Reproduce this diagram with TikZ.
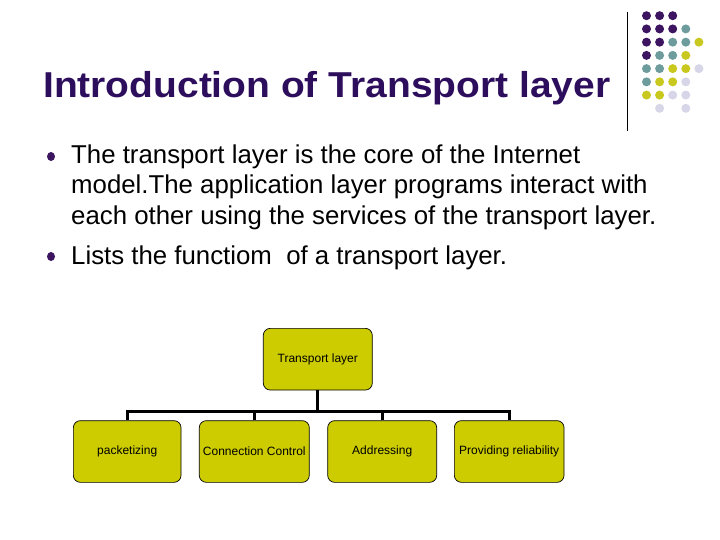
\documentclass[tikz,border=0pt]{standalone}
\usepackage{fontspec}
\setmainfont{Liberation Sans}
\newfontfamily\titlefont[FakeStretch=1.082]{Liberation Sans}
\definecolor{titlepurple}{RGB}{45,14,92}
\definecolor{dotP}{RGB}{60,20,95}
\definecolor{dotT}{RGB}{110,156,156}
\definecolor{dotY}{RGB}{200,200,30}
\definecolor{dotL}{RGB}{214,214,232}
\definecolor{boxfill}{RGB}{204,204,0}
\tikzset{
  txt/.style={inner sep=0pt, anchor=base west, font=\fontsize{25.8}{30}\selectfont},
  bul/.style={fill=dotP, draw=none},
  box/.style={draw=black, line width=0.7pt, fill=boxfill, rounded corners=7pt,
    inner sep=0pt, minimum height=61.7pt, font=\fontsize{12}{14}\selectfont},
  conn/.style={draw=black, line width=3pt},
}
\begin{document}
\begin{tikzpicture}[x=1pt,y=-1pt]
\useasboundingbox (0,0) rectangle (720,540);
% title
\node[inner sep=0pt, anchor=base west, text=titlepurple, font=\titlefont\bfseries\fontsize{36}{40}\selectfont] (title) at (43,97.5) {Introduction of Transport layer};
% vertical rule
\coordinate (ruletop) at (627,12);
\coordinate (rulebot) at (627,131);
\draw[line width=0.8pt] (ruletop) -- (rulebot);
% dots
\foreach \r/\c/\col in {0/0/dotP,0/1/dotP,0/2/dotP,
  1/0/dotP,1/1/dotP,1/2/dotP,1/3/dotT,
  2/0/dotP,2/1/dotP,2/2/dotT,2/3/dotT,2/4/dotY,
  3/0/dotP,3/1/dotT,3/2/dotT,3/3/dotY,
  4/0/dotT,4/1/dotT,4/2/dotY,4/3/dotY,4/4/dotL,
  5/0/dotT,5/1/dotY,5/2/dotY,5/3/dotL,
  6/0/dotY,6/1/dotY,6/2/dotL,6/3/dotL,
  7/1/dotL,7/3/dotL}
  \fill[\col] (646.5+13.1*\c, 15.7+13.23*\r) circle[radius=4.5];
% bullets
\fill[bul] (51,156.5) ellipse[x radius=4, y radius=4.5];
\fill[bul] (51,256.5) ellipse[x radius=4, y radius=4.5];
% body text
\node[txt] (l1) at (71,163.5) {The transport layer is the core of the Internet};
\node[txt] (l2) at (71,194) {model.The application layer programs interact with};
\node[txt] (l3) at (71,224.5) {each other using the services of the transport layer.};
\node[txt] (l4) at (71,264) {Lists the functiom\ \ of a transport layer.};
% diagram
\node[box, minimum width=109pt] (top) at (317.8,359.2) {Transport layer};
\node[box, minimum width=107.7pt] (c1) at (127.2,451.5) {packetizing};
\node[box, minimum width=110pt] (c2) at (254.3,451.5) {Connection Control};
\node[box, minimum width=109pt] (c3) at (382.2,451.5) {Addressing};
\node[box, minimum width=109.7pt] (c4) at (509.2,451.5) {Providing reliability};
\coordinate (bus) at (317.8,411);
\draw[conn] (top.south) -- (bus);
\draw[conn, line join=miter] (c1.north) -- (c1.north |- bus) -- (c4.north |- bus) -- (c4.north);
\draw[conn] (c2.north) -- (c2.north |- bus);
\draw[conn] (c3.north) -- (c3.north |- bus);
\end{tikzpicture}
\end{document}
